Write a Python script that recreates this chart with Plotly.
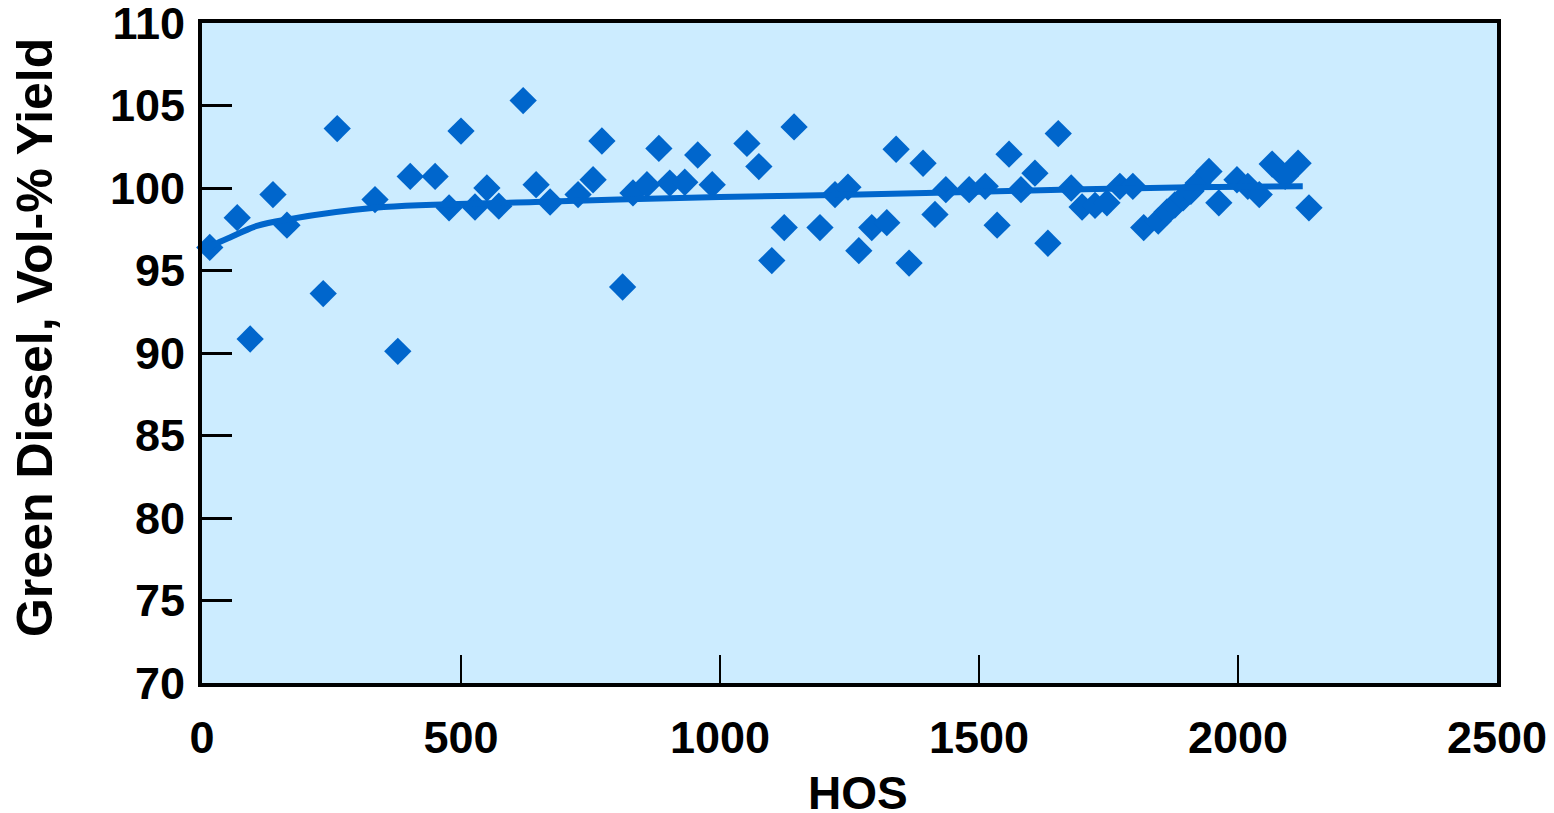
import plotly.graph_objects as go

# Measured data points (HOS vs Green Diesel yield, vol-%)
hos = [15, 68, 93, 137, 164, 234, 261, 334, 378, 402, 450, 477, 500, 527, 550, 573,
       620, 645, 672, 726, 755, 772, 812, 832, 859, 882, 903, 932, 957, 985,
       1052, 1075, 1100, 1124, 1143, 1193, 1222, 1247, 1268, 1293, 1322, 1340,
       1365, 1392, 1415, 1436, 1481, 1512, 1535, 1558, 1581, 1608, 1633, 1653,
       1678, 1699, 1724, 1747, 1772, 1797, 1818, 1846, 1863, 1878, 1894, 1909,
       1923, 1944, 1963, 1998, 2019, 2041, 2066, 2091, 2116, 2137]
yield_pct = [96.4, 98.2, 90.85, 99.6, 97.75, 93.6, 103.6, 99.3, 90.1, 100.7, 100.7, 98.8,
             103.45, 98.85, 100.0, 98.9, 105.3, 100.2, 99.15, 99.6, 100.5, 102.85, 94.0,
             99.7, 100.2, 102.4, 100.3, 100.35, 102.0, 100.2, 102.7, 101.3, 95.6, 97.6,
             103.7, 97.6, 99.6, 100.05, 96.2, 97.6, 97.9, 102.35, 95.45, 101.5, 98.4,
             99.9, 99.9, 100.1, 97.75, 102.05, 99.9, 100.9, 96.65, 103.3, 100.0, 98.85,
             98.95, 99.1, 100.1, 100.1, 97.6, 98.0, 98.55, 98.97, 99.4, 99.8, 100.3,
             101.0, 99.1, 100.5, 100.1, 99.6, 101.45, 100.7, 101.5, 98.8]

# Trend curve
trend_x = [8, 20, 54, 106, 166, 334, 643, 1000, 1270, 1600, 1907, 2125]
trend_y = [96.1, 96.5, 97.0, 97.7, 98.1, 98.8, 99.15, 99.45, 99.6, 99.85, 100.05, 100.1]

x_ticks = [0, 500, 1000, 1500, 2000, 2500]
y_ticks = [70, 75, 80, 85, 90, 95, 100, 105, 110]

x_title = "HOS"
y_title = "Green Diesel, Vol-% Yield"

blue = "#0066CC"
font_family = "Liberation Sans, Arial, sans-serif"

fig = go.Figure()
fig.add_trace(go.Scatter(
    x=hos, y=yield_pct, mode="markers",
    marker=dict(symbol="diamond", size=21, color=blue, line=dict(width=0)),
    showlegend=False, cliponaxis=False))
fig.add_trace(go.Scatter(
    x=trend_x, y=trend_y, mode="lines", line=dict(color=blue, width=6, shape="spline"),
    showlegend=False))

# page body has an 8px margin, so compensate in figure size / margins
fig.update_layout(
    width=1546, height=805,
    margin=dict(l=194, r=57, t=15, b=130),
    paper_bgcolor="white", plot_bgcolor="#CCECFF",
    font=dict(family=font_family, color="black", size=46, weight="bold"),
)
fig.update_xaxes(
    range=[0, 2500], tickvals=x_ticks, ticktext=[str(v) for v in x_ticks],
    ticks="inside", ticklen=28, tickwidth=2, tickcolor="black",
    showline=True, linewidth=4, linecolor="black", mirror=True,
    showgrid=False, zeroline=False, automargin=False,
    tickfont=dict(size=45, family=font_family, weight="bold"),
    ticklabelstandoff=12, ticklabeloverflow="allow",
)
fig.update_yaxes(
    range=[70, 110], tickvals=y_ticks, ticktext=[str(v) for v in y_ticks],
    ticks="inside", ticklen=30, tickwidth=3, tickcolor="black",
    showline=True, linewidth=4, linecolor="black", mirror=True,
    showgrid=False, zeroline=False, automargin=False,
    tickfont=dict(size=45, family=font_family, weight="bold"),
    ticklabelstandoff=4, ticklabeloverflow="allow",
)
fig.add_annotation(
    text=y_title, textangle=-90, showarrow=False,
    xref="paper", yref="paper", x=0, y=0.5227, xanchor="center", yanchor="middle",
    xshift=-167, font=dict(size=50, family=font_family, weight="bold", color="black"),
)
fig.add_annotation(
    text=x_title, showarrow=False,
    xref="paper", yref="paper", x=0.5066, y=0, xanchor="center", yanchor="middle",
    yshift=-110, font=dict(size=46, family=font_family, weight="bold", color="black"),
)

fig.write_html("out.html")
